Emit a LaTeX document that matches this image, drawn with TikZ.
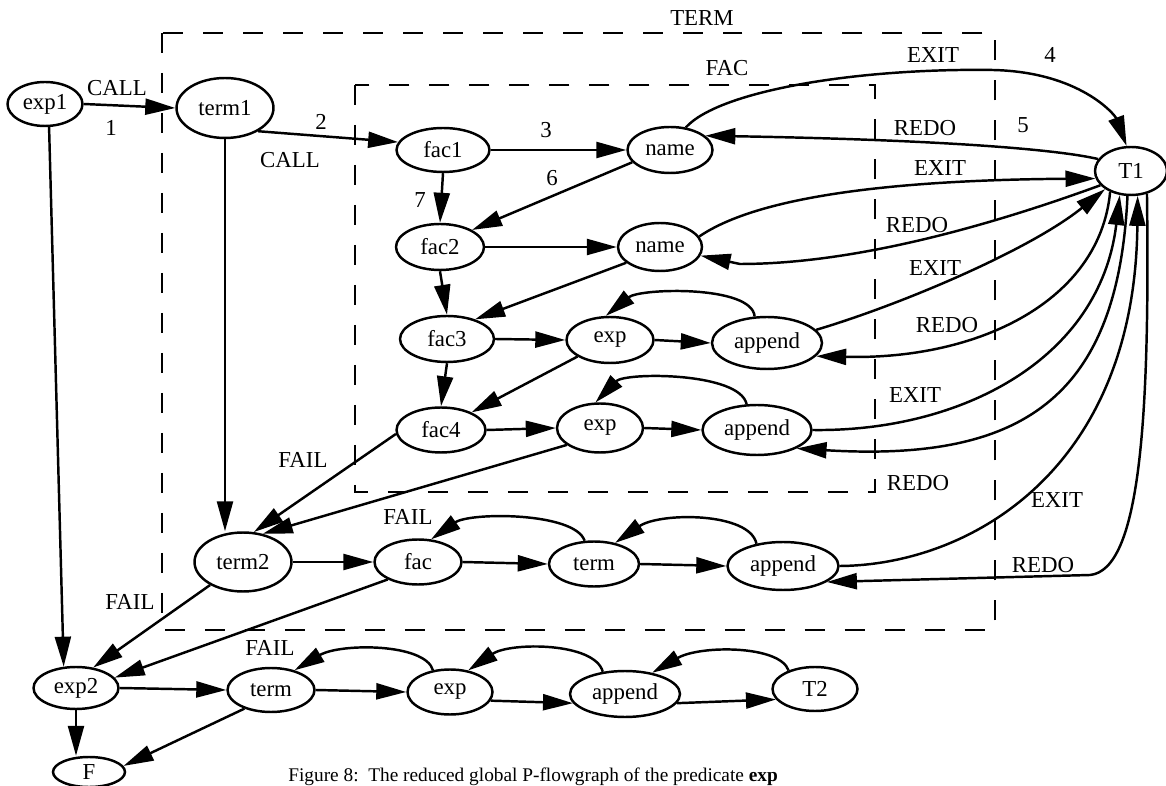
\documentclass[tikz,border=0pt]{standalone}
\usepackage{fontspec}
\setmainfont{Liberation Serif}
\usetikzlibrary{arrows.meta,shapes.geometric}
\tikzset{
  state/.style={ellipse, draw, line width=1.4pt, inner sep=0pt, minimum width=1.74cm, minimum height=0.9cm},
  lbl/.style={inner sep=0pt},
  arrow/.style={-{Triangle[length=6mm, width=3.2mm]}, line width=1.4pt},
  region/.style={dash pattern=on 0.4cm off 0.4cm, line width=1.3pt}
}

\begin{document}
\begin{tikzpicture}[x=0.02cm, y=-0.02cm, every node/.style={font=\fontsize{13}{15}\selectfont}]
\useasboundingbox (0,0) rectangle (1166,786);
\draw[region] (162,33) rectangle (995,630);
\draw[region] (355,85) rectangle (875,492);
\node[lbl] (termLbl) at (702,18) {TERM};
\node[lbl] (facLbl) at (727,68) {FAC};

\node[state, minimum width=1.5cm, minimum height=0.88cm] (exp1) at (45,104) {exp1};
\node[state, minimum width=1.94cm, minimum height=1.2cm] (term1) at (225,108) {term1};
\node[state, minimum width=1.86cm, minimum height=0.88cm] (fac1) at (443,150) {fac1};
\node[state, minimum width=1.7cm, minimum height=0.92cm] (name1) at (670,150) {name};
\node[state, minimum width=1.44cm, minimum height=0.96cm] (T1) at (1131,171) {T1};
\node[state, minimum width=1.76cm, minimum height=0.92cm] (fac2) at (440,247) {fac2};
\node[state, minimum width=1.68cm, minimum height=0.96cm] (name2) at (660,247) {name};
\node[state, minimum width=1.88cm, minimum height=0.92cm] (fac3) at (447,339) {fac3};
\node[state, minimum width=1.74cm, minimum height=0.92cm] (expA) at (610,340) {exp};
\node[state, minimum width=2.2cm, minimum height=1.04cm] (appendA) at (767,343) {append};
\node[state, minimum width=1.78cm, minimum height=0.9cm] (fac4) at (441,430) {fac4};
\node[state, minimum width=1.72cm, minimum height=0.98cm] (expB) at (600,428) {exp};
\node[state, minimum width=2.18cm, minimum height=1.0cm] (appendB) at (757,430) {append};
\node[state, minimum width=1.94cm, minimum height=1.18cm] (term2) at (243,562) {term2};
\node[state] (facB) at (418,562) {fac};
\node[state, minimum width=1.8cm] (termB) at (594,564) {term};
\node[state, minimum width=2.22cm, minimum height=0.96cm] (appendC) at (783,566) {append};
\node[state, minimum width=1.7cm, minimum height=0.84cm] (exp2) at (76,688) {exp2};
\node[state, minimum height=0.88cm] (termC) at (271,690) {term};
\node[state, minimum width=1.7cm] (expC) at (450,692) {exp};
\node[state, minimum width=2.2cm, minimum height=0.92cm] (appendD) at (625,694) {append};
\node[state, minimum width=1.7cm, minimum height=0.88cm] (T2) at (815,689) {T2};
\node[state, minimum width=1.44cm, minimum height=0.6cm] (F) at (89,772) {F};

\draw[arrow] (exp1.east) -- (term1.west);
\draw[arrow] (term1.-35) -- (fac1.170);
\draw[arrow] (fac1.east) -- (name1.west);
\draw[arrow] (fac1.south) -- (fac2.north);
\draw[arrow] (name1.198) -- (fac2.28);
\draw[arrow] (fac2.east) -- (name2.west);
\draw[arrow] (fac2.south) -- (fac3.north);
\draw[arrow] (name2.205) -- (fac3.35);
\draw[arrow] (fac3.east) -- (expA.west);
\draw[arrow] (expA.east) -- (appendA.west);
\draw[arrow] (fac3.south) -- (fac4.north);
\draw[arrow] (expA.207) -- (fac4.30);
\draw[arrow] (fac4.east) -- (expB.west);
\draw[arrow] (expB.east) -- (appendB.west);
\draw[arrow] (appendA.115) .. controls (752,285) and (640,288) .. (expA.100);
\draw[arrow] (appendB.112) .. controls (740,372) and (625,372) .. (expB.100);

\draw[arrow] (name1.55) .. controls (720,90) and (860,68) .. (993,70) .. controls (1080,72) and (1115,115) .. (T1.100);
\draw[arrow] (T1.160) .. controls (1060,150) and (950,140) .. (name1.22);
\draw[arrow] (name2.15) .. controls (760,195) and (900,180) .. (T1.192);
\draw[arrow] (T1.205) .. controls (1000,222) and (860,264) .. (740,264) -- (name2.-12);
\draw[arrow] (appendA.15) .. controls (900,305) and (1030,250) .. (T1.215);
\draw[arrow] (T1.225) .. controls (1100,300) and (980,360) .. (appendA.-15);
\draw[arrow] (appendB.east) .. controls (960,432) and (1100,360) .. (T1.245);
\draw[arrow] (T1.262) .. controls (1118,400) and (1020,462) .. (appendB.-25);
\draw[arrow] (appendC.east) .. controls (970,565) and (1135,470) .. (T1.285);
\draw[arrow] (T1.305) .. controls (1150,420) and (1140,570) .. (1090,575) -- (appendC.-20);

\draw[arrow] (term1.south) -- (term1.south |- term2.north);
\draw[arrow] (fac4.185) -- (term2.70);
\draw[arrow] (expB.207) -- (term2.55);
\draw[arrow] (term2.east) -- (facB.west);
\draw[arrow] (facB.east) -- (termB.west);
\draw[arrow] (termB.east) -- (appendC.west);
\draw[arrow] (termB.112) .. controls (575,512) and (470,512) .. (facB.60);
\draw[arrow] (appendC.140) .. controls (750,512) and (660,512) .. (termB.45);

\draw[arrow] (exp1.-80) -- (exp2.120);
\draw[arrow] (term2.215) -- (exp2.50);
\draw[arrow] (facB.210) -- (exp2.15);
\draw[arrow] (exp2.east) -- (termC.west);
\draw[arrow] (termC.east) -- (expC.west);
\draw[arrow] (expC.-12) -- (appendD.190);
\draw[arrow] (appendD.-10) -- (T2.195);
\draw[arrow] (T2.145) .. controls (780,645) and (700,645) .. (appendD.38);
\draw[arrow] (appendD.135) .. controls (595,642) and (510,642) .. (expC.50);
\draw[arrow] (expC.128) .. controls (425,643) and (340,643) .. (termC.40);
\draw[arrow] (exp2.south) -- (exp2.south |- F.north);
\draw[arrow] (termC.215) -- (F.10);

\node[lbl] (callA) at (117,88) {CALL};
\node[lbl] (oneLbl) at (111,128) {1};
\node[lbl] (twoLbl) at (321,122) {2};
\node[lbl] (callB) at (290,160) {CALL};
\node[lbl] (threeLbl) at (546,130) {3};
\node[lbl] (sixLbl) at (552,178) {6};
\node[lbl] (sevenLbl) at (420,200) {7};
\node[lbl] (exitA) at (933,55) {EXIT};
\node[lbl] (fourLbl) at (1050,55) {4};
\node[lbl] (redoA) at (925,128) {REDO};
\node[lbl] (fiveLbl) at (1023,125) {5};
\node[lbl] (exitB) at (940,168) {EXIT};
\node[lbl] (redoB) at (917,225) {REDO};
\node[lbl] (exitC) at (935,268) {EXIT};
\node[lbl] (redoC) at (947,325) {REDO};
\node[lbl] (exitD) at (915,395) {EXIT};
\node[lbl] (redoD) at (918,483) {REDO};
\node[lbl] (exitE) at (1057,500) {EXIT};
\node[lbl] (redoE) at (1043,565) {REDO};
\node[lbl] (failA) at (303,460) {FAIL};
\node[lbl] (failB) at (408,517) {FAIL};
\node[lbl] (failC) at (130,602) {FAIL};
\node[lbl] (failD) at (270,648) {FAIL};
\node[lbl, anchor=base west, font=\fontsize{11}{13}\selectfont] (caption) at (288,781) {Figure 8:\ \ The reduced global P-flowgraph of the predicate \textbf{exp}};
\end{tikzpicture}
\end{document}
